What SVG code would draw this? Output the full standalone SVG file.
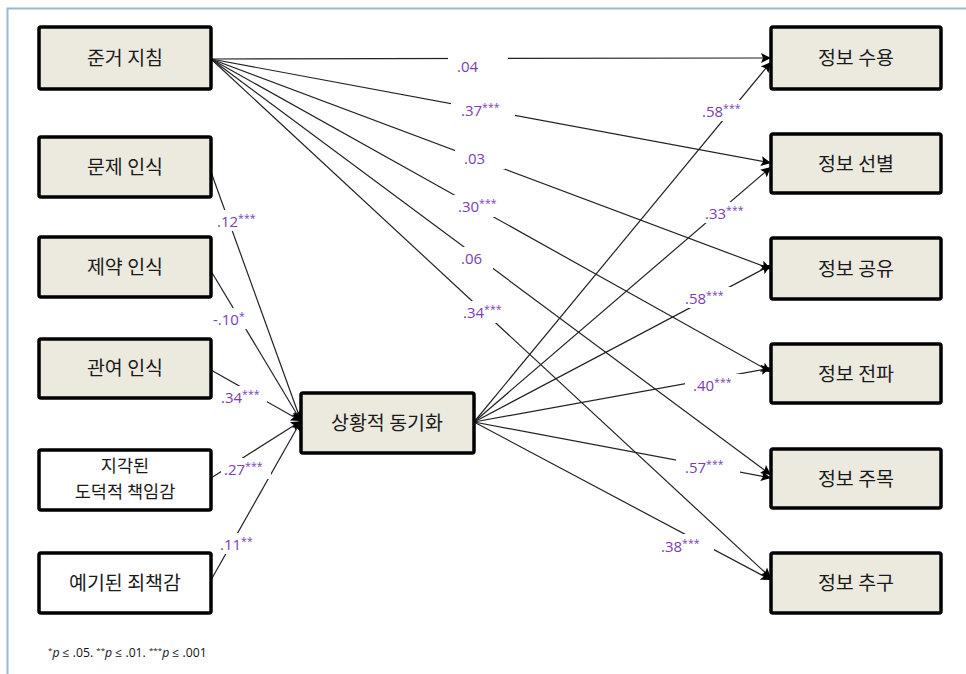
<svg xmlns="http://www.w3.org/2000/svg" width="966" height="674" viewBox="0 0 966 674">
<defs>
<marker id="arr" viewBox="0 0 10 10" refX="10" refY="5" markerWidth="12" markerHeight="10" markerUnits="userSpaceOnUse" orient="auto">
<path d="M0,0 L10,5 L0,10 L2,5 Z" fill="#000"/>
</marker>
<style>
.box{fill:#ECE9DF;stroke:#000;stroke-width:3.5}
.wbox{fill:#fff;stroke:#000;stroke-width:3.5}
.t{font-family:"Noto Sans CJK KR","Noto Sans",sans-serif;font-size:19.5px;fill:#1a1a1a;text-anchor:middle}
.t2{font-size:17.5px}
.c line{stroke:#222;stroke-width:1.2;marker-end:url(#arr)}
.lb{font-family:"Open Sans","Liberation Sans",sans-serif;font-size:15px;fill:#7A3DB8}
.bg{fill:#fff}
.s{font-size:10.5px}
.fn{font-family:"Open Sans","Liberation Sans",sans-serif;font-size:12.2px;fill:#111}
</style>
</defs>
<rect x="0" y="0" width="966" height="674" fill="#fff"/>
<rect x="7.5" y="8.5" width="970" height="680" fill="none" stroke="#9DB6D6" stroke-width="2"/>

<g class="c" id="connectors">
<line x1="211" y1="59" x2="771" y2="58"/>
<line x1="211" y1="59" x2="771" y2="163"/>
<line x1="211" y1="59" x2="771" y2="269"/>
<line x1="211" y1="59" x2="771" y2="372"/>
<line x1="211" y1="59" x2="771" y2="475"/>
<line x1="211" y1="59" x2="771" y2="578"/>
<line x1="211" y1="172" x2="301" y2="421"/>
<line x1="211" y1="271" x2="301" y2="421"/>
<line x1="211" y1="370" x2="301" y2="421"/>
<line x1="211" y1="478" x2="301" y2="421"/>
<line x1="211" y1="580" x2="301" y2="421"/>
<line x1="474" y1="422" x2="771" y2="62"/>
<line x1="474" y1="422" x2="771" y2="167"/>
<line x1="474" y1="422" x2="771" y2="265"/>
<line x1="474" y1="422" x2="771" y2="368"/>
<line x1="474" y1="422" x2="771" y2="478"/>
<line x1="474" y1="422" x2="771" y2="580"/>
</g>

<g id="labels">
<rect class="bg" x="448" y="54" width="60" height="22"/><text class="lb" x="457" y="72">.04</text>
<rect class="bg" x="451" y="99" width="64" height="22"/><text class="lb" x="461" y="116">.37<tspan class="s" dy="-5">***</tspan></text>
<rect class="bg" x="455" y="147" width="50" height="22"/><text class="lb" x="464" y="164">.03</text>
<rect class="bg" x="450" y="195" width="56" height="22"/><text class="lb" x="458" y="212">.30<tspan class="s" dy="-5">***</tspan></text>
<rect class="bg" x="453" y="247" width="40" height="22"/><text class="lb" x="461" y="264">.06</text>
<rect class="bg" x="456" y="301" width="52" height="22"/><text class="lb" x="463" y="318">.34<tspan class="s" dy="-5">***</tspan></text>

<rect class="bg" x="213" y="210" width="48" height="21"/><text class="lb" x="217" y="227">.12<tspan class="s" dy="-5">***</tspan></text>
<rect class="bg" x="209" y="308" width="42" height="21"/><text class="lb" x="213" y="325">-.10<tspan class="s" dy="-5">*</tspan></text>
<rect class="bg" x="217" y="386" width="50" height="21"/><text class="lb" x="221" y="403">.34<tspan class="s" dy="-5">***</tspan></text>
<rect class="bg" x="221" y="458" width="50" height="21"/><text class="lb" x="224" y="475">.27<tspan class="s" dy="-5">***</tspan></text>
<rect class="bg" x="217" y="533" width="46" height="21"/><text class="lb" x="220" y="550">.11<tspan class="s" dy="-5">**</tspan></text>

<rect class="bg" x="698" y="100" width="48" height="21"/><text class="lb" x="702" y="117">.58<tspan class="s" dy="-5">***</tspan></text>
<rect class="bg" x="701" y="202" width="48" height="21"/><text class="lb" x="705" y="219">.33<tspan class="s" dy="-5">***</tspan></text>
<rect class="bg" x="681" y="287" width="54" height="21"/><text class="lb" x="685" y="304">.58<tspan class="s" dy="-5">***</tspan></text>
<rect class="bg" x="685" y="374" width="58" height="21"/><text class="lb" x="693" y="391">.40<tspan class="s" dy="-5">***</tspan></text>
<rect class="bg" x="676" y="455" width="64" height="23"/><text class="lb" x="685" y="473">.57<tspan class="s" dy="-5">***</tspan></text>
<rect class="bg" x="656" y="534" width="58" height="23"/><text class="lb" x="661" y="552">.38<tspan class="s" dy="-5">***</tspan></text>
</g>

<g id="n1"><rect class="box" x="39" y="27" width="172" height="62" rx="2"/><text class="t" x="125" y="65">준거 지침</text></g>
<g id="n2"><rect class="box" x="39" y="137" width="172" height="60" rx="2"/><text class="t" x="125" y="174">문제 인식</text></g>
<g id="n3"><rect class="box" x="39" y="237" width="172" height="60" rx="2"/><text class="t" x="125" y="274">제약 인식</text></g>
<g id="n4"><rect class="box" x="39" y="339" width="172" height="59" rx="2"/><text class="t" x="125" y="375">관여 인식</text></g>
<g id="n5"><rect class="wbox" x="39" y="450" width="172" height="60" rx="2"/><text class="t t2" x="125" y="472">지각된</text><text class="t t2" x="125" y="498">도덕적 책임감</text></g>
<g id="n6"><rect class="wbox" x="39" y="553" width="172" height="60" rx="2"/><text class="t" x="125" y="590">예기된 죄책감</text></g>

<g id="n7"><rect class="box" x="301" y="393" width="173" height="60" rx="2"/><text class="t" x="387" y="430">상황적 동기화</text></g>

<g id="r1"><rect class="box" x="771" y="27" width="170" height="62" rx="2"/><text class="t" x="856" y="65">정보 수용</text></g>
<g id="r2"><rect class="box" x="771" y="134" width="170" height="59" rx="2"/><text class="t" x="856" y="171">정보 선별</text></g>
<g id="r3"><rect class="box" x="771" y="238" width="170" height="61" rx="2"/><text class="t" x="856" y="276">정보 공유</text></g>
<g id="r4"><rect class="box" x="771" y="344" width="170" height="59" rx="2"/><text class="t" x="856" y="381">정보 전파</text></g>
<g id="r5"><rect class="box" x="771" y="449" width="170" height="59" rx="2"/><text class="t" x="856" y="486">정보 주목</text></g>
<g id="r6"><rect class="box" x="771" y="553" width="170" height="60" rx="2"/><text class="t" x="856" y="590">정보 추구</text></g>

<text class="fn" x="48" y="657"><tspan font-size="8" dy="-4">*</tspan><tspan dy="4" font-style="italic">p</tspan> ≤ .05. <tspan font-size="8" dy="-4">**</tspan><tspan dy="4" font-style="italic">p</tspan> ≤ .01. <tspan font-size="8" dy="-4">***</tspan><tspan dy="4" font-style="italic">p</tspan> ≤ .001</text>
</svg>
